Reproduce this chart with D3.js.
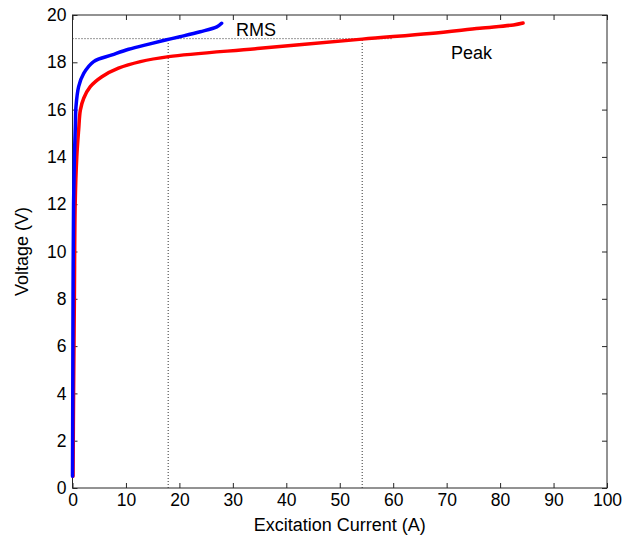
<!DOCTYPE html>
<html><head><meta charset="utf-8">
<script src="https://cdn.jsdelivr.net/npm/d3@7"></script>
<style>body{margin:0;background:#fff}svg{display:block}text{font-family:"Liberation Sans",Arial,sans-serif}</style>
</head><body>
<script>
const rmsCurrent = [0.0, 0.05, 0.1, 0.2, 0.35, 0.53, 0.65, 1.15, 2.1, 3.96, 7.4, 10.5, 14.3, 17.4, 20.1, 23.9, 27.0, 27.9];
const rmsVoltage = [0.5, 4, 8, 12, 14, 15.28, 16.12, 16.97, 17.53, 18.03, 18.31, 18.55, 18.77, 18.94, 19.08, 19.29, 19.5, 19.65];
const peakCurrent = [0.1, 0.2, 0.35, 0.5, 0.8, 1.15, 1.47, 2.1, 3.33, 5.5, 8.6, 12.7, 18.0, 35.1, 54.2, 66.9, 76.2, 82.5, 84.3];
const peakVoltage = [0.5, 4, 8, 12, 14, 15.14, 15.98, 16.48, 16.97, 17.39, 17.75, 18.03, 18.24, 18.59, 18.98, 19.22, 19.44, 19.58, 19.66];
const xTicks = [0,10,20,30,40,50,60,70,80,90,100];
const yTicks = [0,2,4,6,8,10,12,14,16,18,20];
const refV = 19, refRms = 17.9, refPeak = 54.2, refHEnd = 59.7;

const W=634,H=535, L=72.5, R=607, T=15, B=488;
const svg=d3.select("body").append("svg").attr("width",W).attr("height",H);
const x=d3.scaleLinear().domain([0,100]).range([L,R]);
const y=d3.scaleLinear().domain([0,20]).range([B,T]);

svg.append("rect").attr("x",L).attr("y",T).attr("width",R-L).attr("height",B-T).attr("fill","none").attr("stroke","#262626").attr("stroke-width",1);

const axStyle=g=>{g.select(".domain").remove();g.selectAll(".tick line").attr("stroke","#262626");g.selectAll("text").attr("font-size","17.5px").attr("fill","#000");};
svg.append("g").attr("transform",`translate(0,${B})`).call(d3.axisBottom(x).tickValues(xTicks).tickSize(-5).tickPadding(6)).call(axStyle);
svg.append("g").attr("transform",`translate(0,${T})`).call(d3.axisTop(x).tickValues(xTicks).tickSize(-5).tickFormat("")).call(axStyle);
svg.append("g").attr("transform",`translate(${L},0)`).call(d3.axisLeft(y).tickValues(yTicks).tickSize(-5).tickPadding(6)).call(axStyle);
svg.append("g").attr("transform",`translate(${R},0)`).call(d3.axisRight(y).tickValues(yTicks).tickSize(-5).tickFormat("")).call(axStyle);

const dot=(x1,y1,x2,y2)=>svg.append("line").attr("x1",x(x1)).attr("y1",y(y1)).attr("x2",x(x2)).attr("y2",y(y2)).attr("stroke","#333").attr("stroke-width",1).attr("stroke-dasharray","1,2");
dot(0,refV,refHEnd,refV);
dot(refRms,0,refRms,refV);
dot(refPeak,0,refPeak,refV);

const line=d3.line().curve(d3.curveCatmullRom.alpha(0.5));
svg.append("path").attr("d",line(peakCurrent.map((c,i)=>[x(c),y(peakVoltage[i])]))).attr("fill","none").attr("stroke","#ff0000").attr("stroke-width",3.5).attr("stroke-linecap","round");
svg.append("path").attr("d",line(rmsCurrent.map((c,i)=>[x(c),y(rmsVoltage[i])]))).attr("fill","none").attr("stroke","#0000ff").attr("stroke-width",3.5).attr("stroke-linecap","round");

svg.append("text").attr("x",236).attr("y",36).attr("font-size","18px").text("RMS");
svg.append("text").attr("x",451).attr("y",59).attr("font-size","18px").text("Peak");
svg.append("text").attr("x",(L+R)/2).attr("y",531).attr("text-anchor","middle").attr("font-size","18px").text("Excitation Current (A)");
svg.append("text").attr("transform",`translate(28,${(T+B)/2}) rotate(-90)`).attr("text-anchor","middle").attr("font-size","18px").text("Voltage (V)");
</script>
</body></html>
